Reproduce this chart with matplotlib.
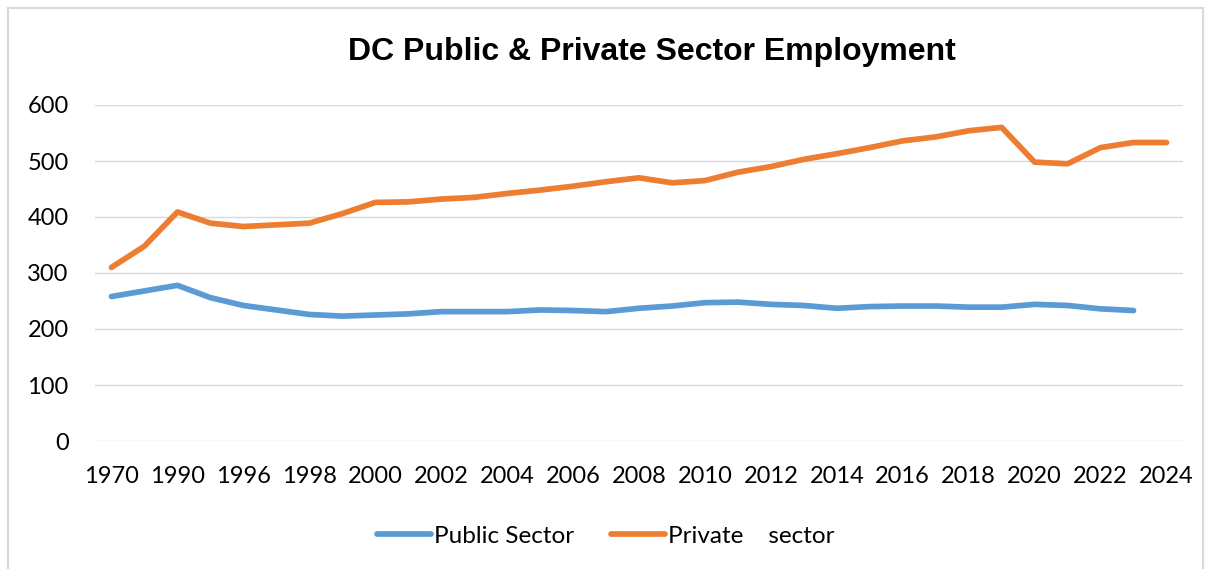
import matplotlib
matplotlib.use('Agg')
import matplotlib.pyplot as plt
import numpy as np
from matplotlib.patches import Rectangle

# DC employment (thousands) by year
years = ['1970', '1980', '1990', '1995', '1996', '1997', '1998', '1999',
         '2000', '2001', '2002', '2003', '2004', '2005', '2006', '2007',
         '2008', '2009', '2010', '2011', '2012', '2013', '2014', '2015',
         '2016', '2017', '2018', '2019', '2020', '2021', '2022', '2023',
         '2024']
public = [258, 268, 278, 256, 242, 234, 226, 223, 225, 227, 231, 231,
          231, 234, 233, 231, 237, 241, 247, 248, 244, 242, 237, 240,
          241, 241, 239, 239, 244, 242, 236, 233]
private = [310, 348, 409, 389, 383, 386, 389, 406, 426, 427, 432, 435,
           442, 448, 455, 463, 470, 461, 465, 480, 490, 503, 513, 524,
           536, 543, 554, 560, 498, 495, 524, 533, 533]
yticks = [0, 100, 200, 300, 400, 500, 600]

BLUE = '#5B9BD5'
ORANGE = '#ED7D31'
GRID = '#D9D9D9'

plt.rcParams['font.family'] = ['Lato', 'DejaVu Sans']

fig = plt.figure(figsize=(12.06, 5.69), dpi=100)
ax = fig.add_axes([95 / 1206, 1 - 441 / 569, 1088 / 1206, 336 / 569])

x = np.arange(len(years))
ax.plot(x[:len(public)], public, color=BLUE, lw=4.1,
        solid_capstyle='round', solid_joinstyle='round', label='Public Sector')
ax.plot(x, private, color=ORANGE, lw=4.1,
        solid_capstyle='round', solid_joinstyle='round',
        label='Private    sector')

ax.set_xlim(-0.5, len(years) - 0.5)
ax.set_ylim(0, 600)
ax.set_yticks(yticks)
ax.set_xticks(x[::2])
ax.set_xticklabels(years[::2])
ax.tick_params(axis='both', length=0, labelsize=17, colors='black')
ax.tick_params(axis='x', pad=18)
ax.tick_params(axis='y', pad=19)
for v in yticks:
    ax.axhline(v, color=GRID, lw=1.0, zorder=0)
for s in ax.spines.values():
    s.set_visible(False)

fig.text(652 / 1206, 1 - 52 / 569, 'DC Public & Private Sector Employment',
         ha='center', va='center', fontsize=23, fontweight='bold',
         family='Liberation Sans')

fig.legend(loc='center', bbox_to_anchor=(606 / 1206, 1 - 536 / 569),
           ncol=2, frameon=False, fontsize=17.5, handlelength=2.2,
           handletextpad=0.15, columnspacing=1.5)

# light chart frame
fig.patches.append(Rectangle((8 / 1206, -0.1), 1195 / 1206, 1.1 - 8 / 569,
                             transform=fig.transFigure, fill=False,
                             edgecolor=GRID, lw=1.5))

fig.savefig('out.png', dpi=100)
